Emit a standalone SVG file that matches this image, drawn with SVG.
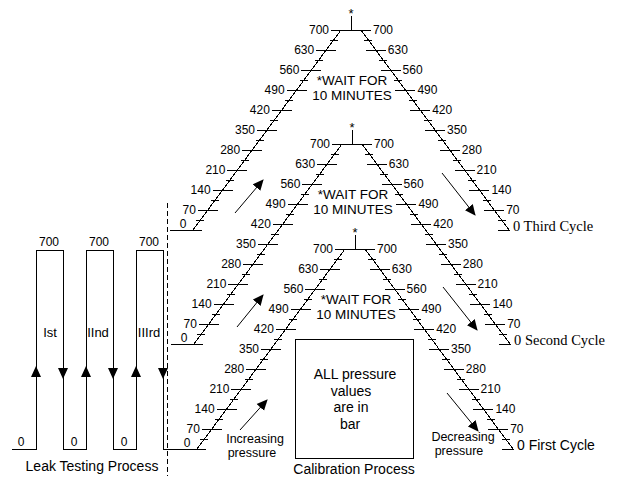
<svg xmlns="http://www.w3.org/2000/svg" width="626" height="478" viewBox="0 0 626 478">
<style>
.ln{fill:none;stroke:#000;stroke-width:1;shape-rendering:crispEdges}
.num{font-family:"Liberation Sans",Arial,sans-serif;font-size:12px;fill:#000}
.e{text-anchor:end}
.m{text-anchor:middle}
.big{font-family:"Liberation Sans",Arial,sans-serif;font-size:14px;fill:#000}
.lbl{font-family:"Liberation Sans",Arial,sans-serif;font-size:12.5px;fill:#000;text-anchor:middle}
.wait{font-family:"Liberation Sans",Arial,sans-serif;font-size:13.5px;fill:#000;text-anchor:middle}
.ser{font-family:"Liberation Serif","Times New Roman",serif;font-size:14.5px;fill:#000}
.ast{font-family:"Liberation Sans",Arial,sans-serif;font-size:13px;fill:#000;text-anchor:middle}
</style>
<defs>
<marker id="ah" markerWidth="11" markerHeight="11" viewBox="0 0 11 11" refX="10" refY="5.5" orient="auto" markerUnits="userSpaceOnUse">
<path d="M0,0.5L11,5.5L0,10.5Z" fill="#000"/>
</marker>
<path id="scale" class="ln" d="M-10,0L-158,200 M10,0L158,200 M0,-14V0
M-20,0H0 M-34.8,20H-14.8 M-49.6,40H-29.6 M-64.4,60H-44.4 M-79.2,80H-59.2 M-94,100H-74 M-108.8,120H-88.8 M-123.6,140H-103.6 M-138.4,160H-118.4 M-153.2,180H-133.2 M-181,200H-149
M-21.4,10H-13.4 M-36.2,30H-28.2 M-51,50H-43 M-65.8,70H-57.8 M-80.6,90H-72.6 M-95.4,110H-87.4 M-110.2,130H-102.2 M-125,150H-117 M-139.8,170H-131.8 M-154.6,190H-146.6
M0,0H20 M14.8,20H34.8 M29.6,40H49.6 M44.4,60H64.4 M59.2,80H79.2 M74,100H94 M88.8,120H108.8 M103.6,140H123.6 M118.4,160H138.4 M133.2,180H153.2 M147,200H159
M13.4,10H21.4 M28.2,30H36.2 M43,50H51 M57.8,70H65.8 M72.6,90H80.6 M87.4,110H95.4 M102.2,130H110.2 M117,150H125 M131.8,170H139.8 M146.6,190H154.6"/>
</defs>

<g id="leak-testing">
<path class="ln" d="M12,449H36V250H63V449H86V250H113V449H136V250H163V449H175"/>
<path d="M36,366L31,377H41Z M86,366L81,377H91Z M136,366L131,377H141Z M63,379L58,368H68Z M113,379L108,368H118Z M163,379L158,368H168Z" fill="#000"/>
<text class="num m" x="49" y="246">700</text>
<text class="num m" x="99" y="246">700</text>
<text class="num m" x="149" y="246">700</text>
<text class="big m" x="50" y="337" style="font-size:13px">Ist</text>
<text class="big m" x="98" y="337" style="font-size:13px">IInd</text>
<text class="big m" x="149" y="337" style="font-size:13px">IIIrd</text>
<text class="num m" x="21" y="446">0</text>
<text class="num m" x="74" y="446">0</text>
<text class="num m" x="124" y="446">0</text>
<text class="big m" x="92" y="471">Leak Testing Process</text>
</g>

<g id="divider">
<path class="ln" d="M167,203V476" stroke-dasharray="5,3"/>
</g>

<g id="third-cycle" transform="translate(351,30)">
<use href="#scale"/>
<text class="ast" x="0" y="-12">*</text>
<text class="num e" x="-22" y="4">700</text>
<text class="num e" x="-36.8" y="24">630</text>
<text class="num e" x="-51.6" y="44">560</text>
<text class="num e" x="-66.4" y="64">490</text>
<text class="num e" x="-81.2" y="84">420</text>
<text class="num e" x="-96" y="104">350</text>
<text class="num e" x="-110.8" y="124">280</text>
<text class="num e" x="-125.6" y="144">210</text>
<text class="num e" x="-140.4" y="164">140</text>
<text class="num e" x="-155.2" y="184">70</text>
<text class="num m" x="-168" y="198">0</text>
<text class="num" x="22" y="4">700</text>
<text class="num" x="36.8" y="24">630</text>
<text class="num" x="51.6" y="44">560</text>
<text class="num" x="66.4" y="64">490</text>
<text class="num" x="81.2" y="84">420</text>
<text class="num" x="96" y="104">350</text>
<text class="num" x="110.8" y="124">280</text>
<text class="num" x="125.6" y="144">210</text>
<text class="num" x="140.4" y="164">140</text>
<text class="num" x="155.2" y="184">70</text>
<text class="ser" x="162" y="201">0 Third Cycle</text>
<text class="wait" x="1" y="55">*WAIT FOR</text>
<text class="wait" x="1" y="70">10 MINUTES</text>
</g>

<g id="second-cycle" transform="translate(352,144)">
<use href="#scale"/>
<text class="ast" x="0" y="-12">*</text>
<text class="num e" x="-22" y="4">700</text>
<text class="num e" x="-36.8" y="24">630</text>
<text class="num e" x="-51.6" y="44">560</text>
<text class="num e" x="-66.4" y="64">490</text>
<text class="num e" x="-81.2" y="84">420</text>
<text class="num e" x="-96" y="104">350</text>
<text class="num e" x="-110.8" y="124">280</text>
<text class="num e" x="-125.6" y="144">210</text>
<text class="num e" x="-140.4" y="164">140</text>
<text class="num e" x="-155.2" y="184">70</text>
<text class="num m" x="-168" y="198">0</text>
<text class="num" x="22" y="4">700</text>
<text class="num" x="36.8" y="24">630</text>
<text class="num" x="51.6" y="44">560</text>
<text class="num" x="66.4" y="64">490</text>
<text class="num" x="81.2" y="84">420</text>
<text class="num" x="96" y="104">350</text>
<text class="num" x="110.8" y="124">280</text>
<text class="num" x="125.6" y="144">210</text>
<text class="num" x="140.4" y="164">140</text>
<text class="num" x="155.2" y="184">70</text>
<text class="ser" x="162" y="201">0 Second Cycle</text>
<text class="wait" x="1" y="55">*WAIT FOR</text>
<text class="wait" x="1" y="70">10 MINUTES</text>
</g>

<g id="first-cycle" transform="translate(355,249)">
<use href="#scale"/>
<text class="ast" x="0" y="-12">*</text>
<text class="num e" x="-22" y="4">700</text>
<text class="num e" x="-36.8" y="24">630</text>
<text class="num e" x="-51.6" y="44">560</text>
<text class="num e" x="-66.4" y="64">490</text>
<text class="num e" x="-81.2" y="84">420</text>
<text class="num e" x="-96" y="104">350</text>
<text class="num e" x="-110.8" y="124">280</text>
<text class="num e" x="-125.6" y="144">210</text>
<text class="num e" x="-140.4" y="164">140</text>
<text class="num e" x="-155.2" y="184">70</text>
<text class="num m" x="-168" y="198">0</text>
<text class="num" x="22" y="4">700</text>
<text class="num" x="36.8" y="24">630</text>
<text class="num" x="51.6" y="44">560</text>
<text class="num" x="66.4" y="64">490</text>
<text class="num" x="81.2" y="84">420</text>
<text class="num" x="96" y="104">350</text>
<text class="num" x="110.8" y="124">280</text>
<text class="num" x="125.6" y="144">210</text>
<text class="num" x="140.4" y="164">140</text>
<text class="num" x="155.2" y="184">70</text>
<text class="big" x="162" y="201">0 First Cycle</text>
<text class="wait" x="1" y="55">*WAIT FOR</text>
<text class="wait" x="1" y="70">10 MINUTES</text>
</g>

<g id="note-box">
<rect class="ln" x="295" y="339" width="118" height="119"/>
<text class="big m" x="355" y="379">ALL pressure</text>
<text class="big m" x="351" y="396">values</text>
<text class="big m" x="351" y="412">are in</text>
<text class="big m" x="350" y="429">bar</text>
</g>

<g id="labels">
<text class="lbl" x="255" y="443">Increasing</text>
<text class="lbl" x="252" y="457">pressure</text>
<text class="lbl" x="463" y="441">Decreasing</text>
<text class="lbl" x="459" y="455">pressure</text>
<text class="big m" x="354" y="474">Calibration Process</text>
</g>

<g id="connectors">
<path class="ln" style="shape-rendering:auto" marker-end="url(#ah)" d="M240,430L267,400"/>
<path class="ln" style="shape-rendering:auto" marker-end="url(#ah)" d="M237,327L263,295"/>
<path class="ln" style="shape-rendering:auto" marker-end="url(#ah)" d="M235,213L263,180"/>
<path class="ln" style="shape-rendering:auto" marker-end="url(#ah)" d="M442,173L475,215"/>
<path class="ln" style="shape-rendering:auto" marker-end="url(#ah)" d="M443,287L477,330"/>
<path class="ln" style="shape-rendering:auto" marker-end="url(#ah)" d="M447,393L478,431"/>
</g>
</svg>
